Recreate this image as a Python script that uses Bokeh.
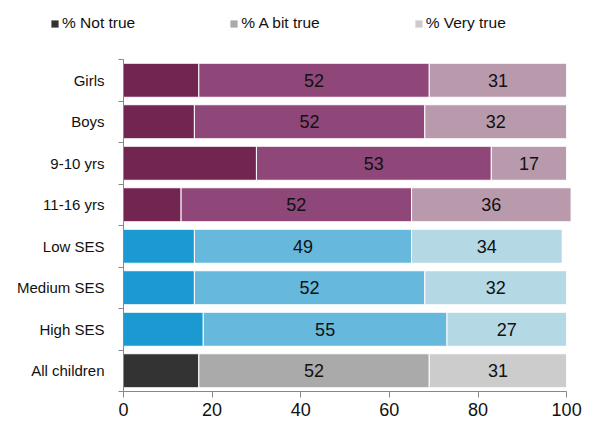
from bokeh.plotting import figure
from bokeh.layouts import column
from bokeh.models import ColumnDataSource, Legend, LegendItem, FixedTicker, Range1d
from bokeh.core.properties import value
from bokeh.embed import file_html
from bokeh.resources import INLINE

categories = ["Girls", "Boys", "9-10 yrs", "11-16 yrs", "Low SES", "Medium SES", "High SES", "All children"]
not_true = [17, 16, 30, 13, 16, 16, 18, 17]
a_bit_true = [52, 52, 53, 52, 49, 52, 55, 52]
very_true = [31, 32, 17, 36, 34, 32, 27, 31]
series_names = ["% Not true", "% A bit true", "% Very true"]

# palette per group: girls/boys/age (purple), SES (blue), all children (grey)
dark = ["#722551"] * 4 + ["#1a9ad0"] * 3 + ["#333333"]
mid = ["#8e4778"] * 4 + ["#66b9dc"] * 3 + ["#aaaaaa"]
light = ["#b99aad"] * 4 + ["#b5d8e5"] * 3 + ["#cccccc"]
legend_colors = ["#333333", "#aaaaaa", "#cccccc"]

FONT = "Liberation Sans"
TEXT = "#111111"
AXIS = "#888888"

n = len(categories)
ypos = [n - 1 - i for i in range(n)]  # first category on top

right1 = list(not_true)
right2 = [a + b for a, b in zip(not_true, a_bit_true)]
right3 = [a + b + c for a, b, c in zip(not_true, a_bit_true, very_true)]

src = ColumnDataSource(dict(
    y=ypos, l1=[0] * n, r1=right1, r2=right2, r3=right3,
    c1=dark, c2=mid, c3=light,
    mid2=[(a + b) / 2 for a, b in zip(right1, right2)],
    mid3=[(a + b) / 2 for a, b in zip(right2, right3)],
    t2=[str(v) for v in a_bit_true],
    t3=[str(v) for v in very_true],
))

# ---- legend strip ----
lg = figure(width=594, height=40, output_backend="svg", toolbar_location=None,
            x_range=Range1d(0, 1), y_range=Range1d(0, 1),
            min_border_left=0, min_border_right=0, min_border_top=0, min_border_bottom=0)
lg.axis.visible = False
lg.grid.visible = False
lg.outline_line_color = None
items = []
for name, col in zip(series_names, legend_colors):
    # swatch renderer sits outside the visible range; only its legend entry shows
    r = lg.quad(left=[-3], right=[-2], bottom=[-3], top=[-2], fill_color=col, line_color=None)
    items.append(LegendItem(label=name, renderers=[r]))
legend = Legend(items=items, orientation="horizontal", location=(50, 8))
legend.glyph_width = 9
legend.glyph_height = 9
legend.label_standoff = 3
legend.label_height = 16
legend.spacing = 94
legend.padding = 0
legend.margin = 0
legend.border_line_color = None
legend.background_fill_alpha = 0
legend.label_text_font = FONT
legend.label_text_font_size = "15.5px"
legend.label_text_color = TEXT
lg.add_layout(legend, "center")

# ---- stacked bars ----
p = figure(width=594, height=381, output_backend="svg", toolbar_location=None,
           x_range=Range1d(0, 102), y_range=Range1d(-0.5, n - 0.5),
           min_border_left=123, min_border_right=19, min_border_top=19, min_border_bottom=30)
p.outline_line_color = None
p.grid.grid_line_color = None

for fig in (lg, p):
    if "frame_align" in fig.properties():
        fig.frame_align = False

bh = 0.82
p.hbar(y="y", left="l1", right="r1", height=bh, fill_color="c1", line_color="white", line_width=1, source=src)
p.hbar(y="y", left="r1", right="r2", height=bh, fill_color="c2", line_color="white", line_width=1, source=src)
p.hbar(y="y", left="r2", right="r3", height=bh, fill_color="c3", line_color="white", line_width=1, source=src)

for xcol, tcol in (("mid2", "t2"), ("mid3", "t3")):
    p.text(x=xcol, y="y", text=tcol, source=src, text_align="center", text_baseline="middle",
           text_font=value(FONT), text_font_size="18px", text_color=TEXT)

# x axis
xa = p.xaxis[0]
xa.ticker = FixedTicker(ticks=[0, 20, 40, 60, 80, 100])
xa.bounds = (0, 100)
xa.axis_line_color = AXIS
xa.major_tick_line_color = AXIS
xa.major_tick_in = 0
xa.major_tick_out = 6
xa.minor_tick_line_color = None
xa.major_label_text_font = FONT
xa.major_label_text_font_size = "18px"
xa.major_label_text_color = TEXT
xa.major_label_standoff = 5

# y axis: labels at bar centres, tick marks between bars
ya = p.yaxis[0]
ya.ticker = FixedTicker(ticks=ypos, minor_ticks=[i - 0.5 for i in range(n + 1)])
ya.major_label_overrides = {y: c for y, c in zip(ypos, categories)}
ya.axis_line_color = AXIS
ya.major_tick_line_color = None
ya.minor_tick_line_color = AXIS
ya.minor_tick_in = 0
ya.minor_tick_out = 5
ya.major_label_text_font = FONT
ya.major_label_text_font_size = "15px"
ya.major_label_text_color = TEXT
ya.major_label_standoff = 13

layout = column(lg, p, spacing=0)
open("out.html", "w").write(file_html(layout, INLINE))
